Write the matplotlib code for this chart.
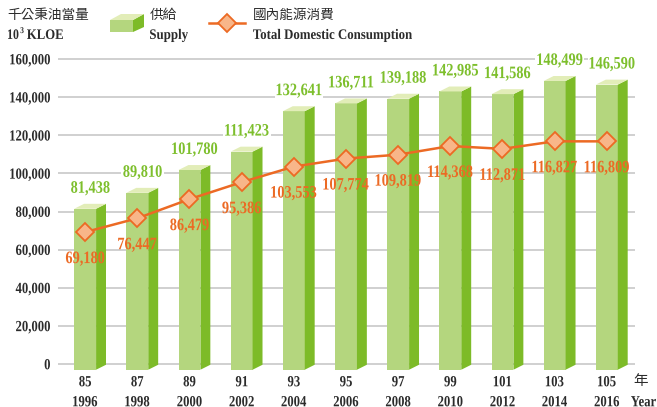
import matplotlib
matplotlib.use("Agg")
import matplotlib.pyplot as plt
from matplotlib.patches import Polygon, PathPatch, Rectangle
from matplotlib.lines import Line2D
from matplotlib.textpath import TextPath
from matplotlib.font_manager import FontProperties
from matplotlib.transforms import Affine2D

roc_years = ["85", "87", "89", "91", "93", "95", "97", "99", "101", "103", "105"]
ad_years = ["1996", "1998", "2000", "2002", "2004", "2006", "2008", "2010", "2012", "2014", "2016"]
supply = [81438, 89810, 101780, 111423, 132641, 136711, 139188, 142985, 141586, 148499, 146590]
consumption = [69180, 76447, 86479, 95386, 103553, 107774, 109819, 114368, 112871, 116827, 116809]
yticks = [0, 20000, 40000, 60000, 80000, 100000, 120000, 140000, 160000]

FRONT = "#b4d67e"
SIDE = "#7dbb28"
TOP = "#e2edb8"
GREEN_TXT = "#7dbf2c"
ORANGE = "#ec6a24"
ORANGE_FACE = "#f8b689"
DARK = "#2b2b2b"
CJK = ["Noto Sans CJK TC", "DejaVu Sans"]
SERIF = "Liberation Serif"
FP = FontProperties(family=SERIF, weight="bold")

W, H = 657, 407
fig = plt.figure(figsize=(W / 100, H / 100), dpi=100)
ymin, ymax = -6000, 165000
ppk = 1.906  # pixels per 1000 units
top_px = 364 - (ymax / 1000) * ppk
bot_px = 364 - (ymin / 1000) * ppk
ax = fig.add_axes([58 / W, (H - bot_px) / H, 577 / W, (bot_px - top_px) / H])
ax.set_xlim(-0.52, 10.54)
ax.set_ylim(ymin, ymax)
for s in ax.spines.values():
    s.set_visible(False)
ax.set_xticks([])
ax.set_yticks([])
for v in yticks:
    ax.axhline(v, color="#c4c4c4", lw=1.1, zorder=0)


def ctext(x, y, s, size, color, ha="center", sx=0.82, width=None, bg=False, z=6):
    """Condensed bold serif text; x, y in pixels from top-left; y = vertical centre of digits."""
    tp = TextPath((0, 0), s, size=size, prop=FP)
    ext = tp.get_extents()
    if width is not None:
        sx = width / ext.width
    if ha == "center":
        x0 = x - (ext.x0 + ext.x1) / 2 * sx
    elif ha == "left":
        x0 = x - ext.x0 * sx
    else:
        x0 = x - ext.x1 * sx
    yd = H - y
    y0 = yd - 0.34 * size
    if bg:
        fig.add_artist(Rectangle((x0 + ext.x0 * sx - 2, y0 - 0.18 * size),
                                 ext.width * sx + 4, size * 1.02,
                                 transform=Affine2D(), fc="white", ec="none", zorder=z - 1))
    fig.add_artist(PathPatch(tp, transform=Affine2D().scale(sx, 1).translate(x0, y0),
                             fc=color, ec="none", zorder=z))


def to_px(x, y):
    dx, dy = ax.transData.transform((x, y))
    return dx, H - dy


# y tick labels
for v in yticks:
    _, py = to_px(0, v)
    ctext(50, py, f"{v:,}", 15.5, DARK, ha="right")

fw = 0.42   # front width
dxd = 0.19  # side depth in x
dy = 2600   # depth in y
base = -3000
for i, v in enumerate(supply):
    x0, x1 = i - fw / 2, i + fw / 2
    ax.add_patch(Polygon([(x0, base), (x1, base), (x1, v), (x0, v)], closed=True,
                         facecolor=FRONT, edgecolor="none", zorder=2))
    ax.add_patch(Polygon([(x1, base), (x1 + dxd, base + dy), (x1 + dxd, v + dy), (x1, v)],
                         closed=True, facecolor=SIDE, edgecolor="none", zorder=2))
    ax.add_patch(Polygon([(x0, v), (x1, v), (x1 + dxd, v + dy), (x0 + dxd, v + dy)],
                         closed=True, facecolor=TOP, edgecolor="none", zorder=2))
    px_, py_ = to_px(i + 0.1, v)
    ctext(px_, py_ - 22, f"{v:,}", 17.5, GREEN_TXT, bg=True)

xs = list(range(len(consumption)))
ax.plot(xs, consumption, color=ORANGE, lw=1.8, zorder=3,
        marker="D", markersize=9, markerfacecolor=ORANGE_FACE,
        markeredgecolor=ORANGE, markeredgewidth=1.3)
for i, v in enumerate(consumption):
    px_, py_ = to_px(i, v)
    ctext(px_, py_ + 25, f"{v:,}", 17.5, ORANGE)

# x labels
for i in range(len(roc_years)):
    px_, _ = to_px(i, 0)
    ctext(px_, 381, roc_years[i], 15.5, DARK)
    ctext(px_, 401, ad_years[i], 15.5, DARK)


def px(x, y):
    return x / W, 1 - y / H


fig.text(*px(641, 381), "年", family=CJK, fontsize=10.5, color=DARK,
         ha="center", va="center")
ctext(631, 401, "Year", 15.5, DARK, ha="left")

# header
fig.text(*px(7, 15), "千公秉油當量", family=CJK, fontsize=9.8, color=DARK,
         ha="left", va="center")
ctext(8, 34, "10", 14.5, DARK, ha="left")
ctext(20.5, 30, "3", 9, DARK, ha="left")
ctext(27, 34, "KLOE", 14.5, DARK, ha="left", width=36)


# legend: supply icon
def fig_poly(pts, color):
    fig.patches.append(Polygon([px(x, y) for x, y in pts], closed=True,
                               transform=fig.transFigure, facecolor=color,
                               edgecolor="none"))


fig_poly([(110, 20), (133, 20), (133, 32), (110, 32)], FRONT)
fig_poly([(133, 20), (144, 14), (144, 27), (133, 32)], SIDE)
fig_poly([(110, 20), (133, 20), (144, 14), (121, 14)], TOP)
fig.text(*px(150, 15), "供給", family=CJK, fontsize=9.8, color=DARK,
         ha="left", va="center")
ctext(150, 34, "Supply", 14.5, DARK, ha="left", width=38)

# legend: consumption icon
fig.lines.append(Line2D([209 / W, 245 / W], [1 - 23 / H, 1 - 23 / H],
                        transform=fig.transFigure, color=ORANGE, lw=1.8))
fig.lines.append(Line2D([227 / W], [1 - 23 / H], transform=fig.transFigure,
                        marker="D", markersize=9, markerfacecolor=ORANGE_FACE,
                        markeredgecolor=ORANGE, markeredgewidth=1.3, lw=0))
fig.text(*px(253, 15), "國內能源消費", family=CJK, fontsize=9.8, color=DARK,
         ha="left", va="center")
ctext(253, 34, "Total Domestic Consumption", 14.5, DARK, ha="left", width=159)

fig.savefig("out.png", dpi=100, facecolor="white")
